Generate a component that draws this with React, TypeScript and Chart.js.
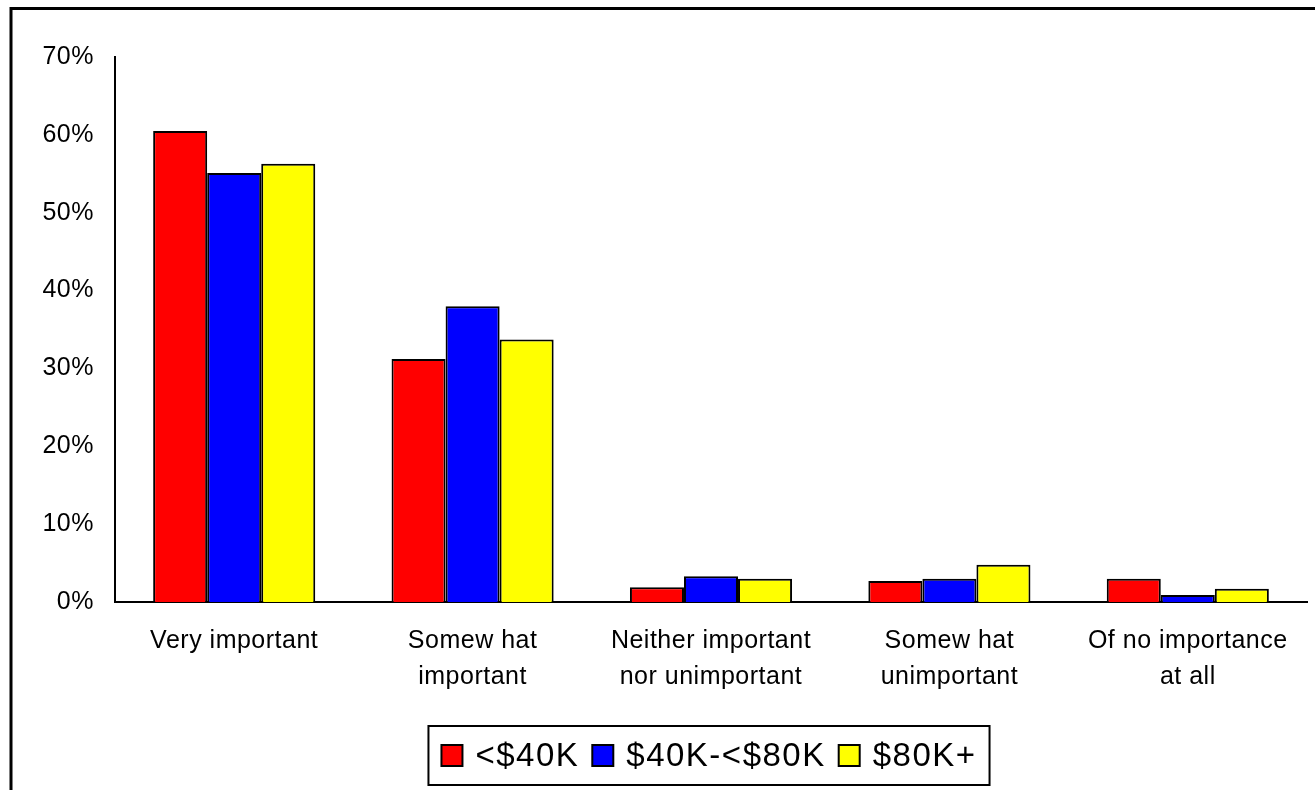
import React, { useEffect, useRef } from "react";
import { Chart, registerables } from "chart.js";

Chart.register(...registerables);

// Survey categories (two-line labels are arrays)
const categories: (string | string[])[] = [
  "Very important",
  ["Somew hat", "important"],
  ["Neither important", "nor unimportant"],
  ["Somew hat", "unimportant"],
  ["Of no importance", "at all"],
];

// Share of respondents per income group, in percent
const under40K = [60.5, 31.2, 1.9, 2.7, 3.0];
const from40To80K = [55.1, 38.0, 3.3, 3.0, 0.9];
const over80K = [56.3, 33.7, 3.0, 4.8, 1.7];

const seriesLabels = ["<$40K", "$40K-<$80K", "$80K+"];
const seriesColors = ["#FF0000", "#0000FF", "#FFFF00"];

// Y axis range and step, in percent
const yMax = 70;
const yStep = 10;

const FONT = '"Liberation Sans", Arial, sans-serif';

// Thick frame along the top and left edges; slightly wider text spacing for the axes
const framePlugin = {
  id: "frame",
  beforeDraw(chart: any) {
    const ctx = chart.ctx;
    ctx.save();
    ctx.strokeStyle = "#000";
    ctx.lineWidth = 3;
    ctx.beginPath();
    ctx.moveTo(11, chart.height);
    ctx.lineTo(11, 8.5);
    ctx.lineTo(chart.width, 8.5);
    ctx.stroke();
    ctx.restore();
    try {
      (ctx as any).letterSpacing = "0.5px";
    } catch (e) {}
  },
  afterDraw(chart: any) {
    try {
      (chart.ctx as any).letterSpacing = "0px";
    } catch (e) {}
  },
};

// Boxed legend under the category labels
const boxedLegend = {
  id: "boxedLegend",
  afterDraw(chart: any) {
    const ctx = chart.ctx;
    const area = chart.chartArea;
    ctx.save();
    ctx.font = `33px ${FONT}`;
    try {
      (ctx as any).letterSpacing = "1.5px";
    } catch (e) {}
    const marker = 21;
    const gapText = 13;
    const gapItem = 13;
    const padL = 13;
    const padR = 13;
    const items = chart.data.datasets.map((ds: any) => ({
      label: ds.label as string,
      color: ds.backgroundColor as string,
      w: ctx.measureText(ds.label).width,
    }));
    const content =
      items.reduce((s: number, it: any) => s + marker + gapText + it.w, 0) +
      gapItem * (items.length - 1);
    const boxW = content + padL + padR;
    const boxH = 59;
    const cx = (area.left + area.right) / 2 - 2;
    const left = cx - boxW / 2;
    const top = area.bottom + 124;

    ctx.fillStyle = "#fff";
    ctx.fillRect(left, top, boxW, boxH);
    ctx.strokeStyle = "#000";
    ctx.lineWidth = 2;
    ctx.strokeRect(left, top, boxW, boxH);

    let x = left + padL;
    const my = top + boxH / 2;
    items.forEach((it: any) => {
      ctx.fillStyle = it.color;
      ctx.fillRect(x, my - marker / 2, marker, marker);
      ctx.strokeStyle = "#000";
      ctx.lineWidth = 2;
      ctx.strokeRect(x, my - marker / 2, marker, marker);
      ctx.fillStyle = "#000";
      ctx.textBaseline = "middle";
      ctx.textAlign = "left";
      ctx.fillText(it.label, x + marker + gapText, my + 1);
      x += marker + gapText + it.w + gapItem;
    });
    ctx.restore();
  },
};

export default function App() {
  const canvasRef = useRef<HTMLCanvasElement | null>(null);

  useEffect(() => {
    if (!canvasRef.current) return;
    const seriesData = [under40K, from40To80K, over80K];
    const chart = new Chart(canvasRef.current, {
      type: "bar",
      data: {
        labels: categories,
        datasets: seriesData.map((d, i) => ({
          label: seriesLabels[i],
          data: d,
          backgroundColor: seriesColors[i],
          borderColor: "#000",
          borderWidth: 2,
          borderSkipped: "bottom",
          barPercentage: 1,
          categoryPercentage: 0.68,
        })),
      },
      options: {
        responsive: false,
        animation: false,
        devicePixelRatio: 1,
        layout: { padding: { left: 0, right: 8, top: 57, bottom: 78 } },
        plugins: {
          legend: { display: false },
          tooltip: { enabled: false },
        },
        scales: {
          x: {
            grid: { display: false, drawTicks: false },
            border: { display: true, color: "#000", width: 2 },
            ticks: {
              color: "#000",
              font: { family: FONT, size: 25, lineHeight: "36px" } as any,
              padding: 21,
              maxRotation: 0,
              autoSkip: false,
            },
            afterFit(scale: any) {
              scale.height = 110;
            },
          },
          y: {
            min: 0,
            max: yMax,
            grid: { display: false, drawTicks: false },
            border: { display: true, color: "#000", width: 2 },
            ticks: {
              stepSize: yStep,
              color: "#000",
              font: { family: FONT, size: 25 },
              padding: 21,
              callback: (v: any) => `${v}%`,
            },
            afterFit(scale: any) {
              scale.width = 115;
            },
          },
        },
      },
      plugins: [framePlugin, boxedLegend],
    });
    return () => chart.destroy();
  }, []);

  return (
    <div style={{ position: "absolute", left: 0, top: 0, width: 1315, height: 790, background: "#fff" }}>
      <canvas ref={canvasRef} width={1315} height={790} style={{ display: "block" }} />
    </div>
  );
}
